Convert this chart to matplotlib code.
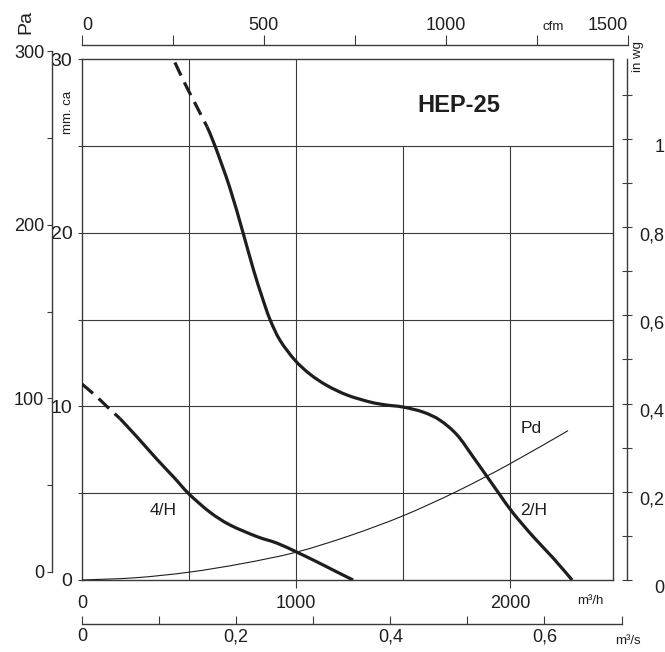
import numpy as np
import matplotlib
matplotlib.use("Agg")
import matplotlib.pyplot as plt
from matplotlib.path import Path
from matplotlib.patches import PathPatch

plt.rcParams['font.family'] = ['Liberation Sans', 'DejaVu Sans']

# curve 2/H (m3/h, mm.ca)
q_2h_dash = [434, 480, 530, 584]
p_2h_dash = [29.8, 28.6, 27.4, 26.1]
q_2h = [584, 621, 690, 752, 800, 841, 878, 925, 995, 1065, 1144, 1238, 1345,
        1420, 1499, 1593, 1672, 1752, 1826, 1892, 1952, 2013, 2107, 2200, 2289]
p_2h = [26.1, 25.0, 22.6, 20.0, 17.9, 16.3, 15.0, 13.8, 12.65, 11.85, 11.2,
        10.65, 10.25, 10.08, 9.96, 9.67, 9.2, 8.35, 7.1, 5.95, 4.9, 3.86,
        2.5, 1.27, 0.0]

# curve 4/H
q_4h_dash = [0, 60, 120, 177]
p_4h_dash = [11.28, 10.65, 9.95, 9.3]
q_4h = [177, 256, 350, 430, 500, 598, 691, 817, 911, 1004, 1098, 1191, 1266]
p_4h = [9.3, 8.25, 6.95, 5.9, 4.95, 3.9, 3.17, 2.5, 2.12, 1.6, 1.04, 0.46, 0.0]

# dynamic pressure Pd
q_pd = [0, 250, 500, 750, 1000, 1250, 1500, 1750, 2000, 2270]
p_pd = [0, 0.13, 0.45, 0.95, 1.6, 2.55, 3.7, 5.1, 6.7, 8.6]

# axes ticks
mm_ticks = [0, 10, 20, 30]
mm_minor = [5, 15, 25]
pa_ticks = [0, 100, 200, 300]
pa_minor = [50, 150, 250]
q_ticks = [0, 1000, 2000]
cfm_ticks = [0, 250, 500, 750, 1000, 1250, 1500]
cfm_labels = ['0', '', '500', '', '1000', '', '1500']
m3s_ticks = [0, 0.1, 0.2, 0.3, 0.4, 0.5, 0.6, 0.7]
m3s_labels = ['0', '', '0,2', '', '0,4', '', '0,6', '']
inwg_major = [0, 0.2, 0.4, 0.6, 0.8, 1.0]
inwg_labels = ['0', '0,2', '0,4', '0,6', '0,8', '1']
inwg_minor = [0.1, 0.3, 0.5, 0.7, 0.9, 1.1]
grid_h = [5, 10, 15, 20, 25]
grid_v_full = [500, 1000]
grid_v_part = [1500, 2000]

W, H = 665, 652
Q_MAX = 2480
def fx(px): return px / W
def fy(py): return 1 - py / H

px_per_q = (613 - 82) / Q_MAX
ink = '#1e1e1e'
line_c = '#3a3a3a'


def smooth_path(xs, ys):
    # catmull-rom through the read points, handed to matplotlib as bezier curves
    p = np.column_stack([xs, ys]).astype(float)
    ext = np.vstack([p[0], p, p[-1]])
    verts = [p[0]]
    codes = [Path.MOVETO]
    for i in range(1, len(ext) - 2):
        p0, p1, p2, p3 = ext[i - 1], ext[i], ext[i + 1], ext[i + 2]
        verts += [p1 + (p2 - p0) / 6, p2 - (p3 - p1) / 6, p2]
        codes += [Path.CURVE4] * 3
    return Path(verts, codes)


def draw_curve(ax, xs, ys, lw, dashed=False):
    ls = (0, (4.5, 2.4)) if dashed else '-'
    patch = PathPatch(smooth_path(xs, ys), facecolor='none', edgecolor=ink,
                      lw=lw, ls=ls, capstyle='butt', zorder=3)
    ax.add_patch(patch)


fig = plt.figure(figsize=(W / 100, H / 100), dpi=100)
ax = fig.add_axes([fx(82), fy(580), fx(613) - fx(82), fy(59) - fy(580)])
ax.set_xlim(0, Q_MAX)
ax.set_ylim(0, 30)
for s in ax.spines.values():
    s.set_color(line_c)
    s.set_linewidth(1.0)

for g in grid_h:
    ax.axhline(g, color=line_c, lw=0.8, zorder=1)
ax.vlines(grid_v_full, 0, 30, color=line_c, lw=0.8, zorder=1)
ax.vlines(grid_v_part, 0, 25, color=line_c, lw=0.8, zorder=1)

ax.set_yticks(mm_ticks)
ax.set_yticks(mm_minor, minor=True)
ax.tick_params(axis='y', which='both', direction='out', length=3, width=0.8,
               color=line_c, labelsize=14, pad=4, labelcolor=ink)
ax.set_xticks(q_ticks)
ax.tick_params(axis='x', direction='out', length=6, width=0.8, color=line_c,
               labelsize=13, pad=5, labelcolor=ink)
ax.xaxis.get_major_ticks()[0].tick1line.set_visible(False)

draw_curve(ax, q_2h, p_2h, 2.3)
draw_curve(ax, q_2h_dash, p_2h_dash, 2.3, dashed=True)
draw_curve(ax, q_4h, p_4h, 2.3)
draw_curve(ax, q_4h_dash, p_4h_dash, 2.3, dashed=True)
draw_curve(ax, q_pd, p_pd, 0.8)

ax.text(1761, 27.35, 'HEP-25', fontsize=17, fontweight='bold', color=ink,
        ha='center', va='center')
ax.text(2097, 8.75, 'Pd', fontsize=12.5, color=ink, ha='center', va='center')
ax.text(2107, 4.03, '2/H', fontsize=12.5, color=ink, ha='center', va='center')
ax.text(378, 4.03, '4/H', fontsize=12.5, color=ink, ha='center', va='center')

fig.text(fx(590), fy(601), 'm³/h', fontsize=9.5, color=ink, ha='center', va='center')
fig.text(fx(628), fy(641), 'm³/s', fontsize=9.5, color=ink, ha='center', va='center')
fig.text(fx(553), fy(27), 'cfm', fontsize=9.5, color=ink, ha='center', va='center')
fig.text(fx(26), fy(22), 'Pa', fontsize=14, color=ink, rotation=90,
         ha='center', va='center')
fig.text(fx(68), fy(112), 'mm. ca', fontsize=9.5, color=ink, rotation=90,
         ha='center', va='center')
fig.text(fx(638), fy(56), 'in wg', fontsize=9.5, color=ink, rotation=90,
         ha='center', va='center')

# Pa scale on the far left
ax_pa = fig.add_axes([fx(52), fy(572), 0.0005, fy(51) - fy(572)])
ax_pa.set_ylim(0, 300)
ax_pa.set_xticks([])
for k in ['top', 'right', 'bottom']:
    ax_pa.spines[k].set_visible(False)
ax_pa.spines['left'].set_color(line_c)
ax_pa.spines['left'].set_linewidth(1.0)
ax_pa.set_yticks(pa_ticks)
ax_pa.set_yticks(pa_minor, minor=True)
ax_pa.tick_params(axis='y', which='both', direction='out', length=3.5, width=0.8,
                  color=line_c, labelsize=13, pad=2, labelcolor=ink)
ax_pa.patch.set_visible(False)

# cfm scale on top
cfm_w = 1500 * 1.699 * px_per_q
ax_cfm = fig.add_axes([fx(82), fy(45), cfm_w / W, 0.0005])
ax_cfm.set_xlim(0, 1500)
ax_cfm.set_yticks([])
ax_cfm.xaxis.set_ticks_position('top')
for k in ['left', 'right', 'bottom']:
    ax_cfm.spines[k].set_visible(False)
ax_cfm.spines['top'].set_color(line_c)
ax_cfm.spines['top'].set_linewidth(1.0)
ax_cfm.set_xticks(cfm_ticks, cfm_labels)
ax_cfm.tick_params(axis='x', direction='out', length=7.5, width=0.8,
                   color=line_c, labelsize=13, pad=0, labelcolor=ink)
ax_cfm.get_xticklabels()[0].set_horizontalalignment('left')
ax_cfm.get_xticklabels()[-1].set_horizontalalignment('right')
ax_cfm.patch.set_visible(False)

# m3/s scale at the bottom
m3s_w = 0.7 * 3600 * px_per_q
ax_s = fig.add_axes([fx(82), fy(624), m3s_w / W, 0.0005])
ax_s.set_xlim(0, 0.7)
ax_s.set_yticks([])
for k in ['left', 'right', 'top']:
    ax_s.spines[k].set_visible(False)
ax_s.spines['bottom'].set_color(line_c)
ax_s.spines['bottom'].set_linewidth(1.0)
ax_s.set_xticks(m3s_ticks, m3s_labels)
ax_s.tick_params(axis='x', direction='in', length=6, width=0.8, color=line_c,
                 labelsize=13, pad=3, labelcolor=ink)
ax_s.patch.set_visible(False)

# in wg scale on the right
ax_in = fig.add_axes([fx(627), fy(580), 0.0005, fy(59) - fy(580)])
ax_in.set_ylim(0, 30 / 25.4)
ax_in.set_xticks([])
ax_in.yaxis.set_ticks_position('right')
for k in ['top', 'left', 'bottom']:
    ax_in.spines[k].set_visible(False)
ax_in.spines['right'].set_color(line_c)
ax_in.spines['right'].set_linewidth(1.0)
ax_in.set_yticks(inwg_major, inwg_labels)
ax_in.set_yticks(inwg_minor, minor=True)
ax_in.tick_params(axis='y', which='both', direction='inout', length=7, width=0.8,
                  color=line_c, labelsize=13, pad=23, labelcolor=ink)
for lab in ax_in.get_yticklabels():
    lab.set_horizontalalignment('right')
    lab.set_verticalalignment('top')
ax_in.patch.set_visible(False)

fig.savefig('out.png', dpi=100)
plt.close(fig)
